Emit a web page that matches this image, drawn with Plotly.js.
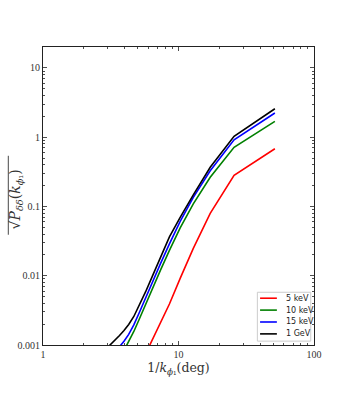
<!DOCTYPE html>
<html>
<head>
<meta charset="utf-8">
<script src="https://cdn.plot.ly/plotly-3.0.1.min.js"></script>
<style>body{margin:0;background:#fff}</style>
</head>
<body>
<div id="plot" style="width:350px;height:395px"></div>
<script>
// 1/k_phi1 in degrees
const invK = [3.02, 3.21, 3.43, 3.67, 3.96, 4.29, 4.68, 5.14, 5.71, 6.43, 7.35, 8.57, 10.29, 12.86, 17.14, 25.71, 51.43];

const p5keV = [null, null, null, null, null, null, null, null, 0.000741, 0.0012, 0.00198, 0.00391, 0.00914, 0.0248, 0.0794, 0.281, 0.679];
const p10keV = [null, null, null, null, 0.000833, 0.001105, 0.001567, 0.002375, 0.003846, 0.006555, 0.01193, 0.0232, 0.0491, 0.109, 0.2633, 0.714, 1.69];
const p15keV = [null, null, null, 0.000945, 0.00113, 0.00142, 0.00195, 0.00295, 0.00478, 0.00813, 0.01481, 0.0288, 0.061, 0.1353, 0.3266, 0.916, 2.23];
const p1GeV = [0.000936, 0.00105, 0.00119, 0.00137, 0.00162, 0.00198, 0.00258, 0.00372, 0.00583, 0.00993, 0.01835, 0.0364, 0.0695, 0.147, 0.367, 1.03, 2.57];

const names = ["5 keV", "10 keV", "15 keV", "1 GeV"];
const colors = ["#ff0000", "#008000", "#0000ff", "#000000"];
const series = [p5keV, p10keV, p15keV, p1GeV];

const xTicks = [1, 10, 100];
const xTickText = ["1", "10", "100"];
const yTicks = [0.001, 0.01, 0.1, 1, 10];
const yTickText = ["0.001", "0.01", "0.1", "1", "10"];

function minorTicks(decades) {
  const out = [];
  for (const d of decades) {
    for (let m = 2; m <= 9; m++) out.push(m * d);
  }
  return out;
}

const traces = series.map((ys, i) => ({
  x: invK,
  y: ys,
  mode: "lines",
  type: "scatter",
  name: names[i],
  line: { color: colors[i], width: 1.6 },
  showlegend: false,
  hoverinfo: "skip"
}));

// hand-made legend, matplotlib style, lower right
const shapes = [{
  type: "rect", xref: "paper", yref: "paper",
  x0: 0.791, x1: 0.988, y0: 0.013, y1: 0.177,
  line: { color: "#cccccc", width: 1 }, fillcolor: "rgba(255,255,255,0.85)"
}];
const annotations = [];
names.forEach((n, i) => {
  const y = 0.157 - i * 0.0399;
  shapes.push({
    type: "line", xref: "paper", yref: "paper",
    x0: 0.801, x1: 0.863, y0: y, y1: y,
    line: { color: colors[i], width: 1.6 }
  });
  annotations.push({
    xref: "paper", yref: "paper", x: 0.889, y: y,
    xanchor: "left", yanchor: "middle", showarrow: false,
    text: n, font: { family: "DejaVu Sans", size: 8, color: "#222" }
  });
});

// y label, drawn as a rotated annotation with the root's bar as a shape
annotations.push({
  xref: "paper", yref: "paper", x: -0.098, y: 0.49,
  xanchor: "center", yanchor: "middle", showarrow: false, textangle: -90,
  text: "√<i>P</i><sub><i>δδ</i></sub>(<i>k</i><sub><i>ϕ</i>₁</sub>)",
  font: { family: "DejaVu Serif", size: 14, color: "#333" }
});
shapes.push({
  type: "line", xref: "paper", yref: "paper",
  x0: -0.128, x1: -0.128, y0: 0.37, y1: 0.635,
  line: { color: "#333", width: 0.9 }
});

const axisCommon = {
  type: "log",
  showgrid: false,
  zeroline: false,
  showline: true,
  linecolor: "#222",
  linewidth: 1,
  mirror: "allticks",
  ticks: "inside",
  ticklen: 4,
  tickwidth: 0.8,
  tickcolor: "#222",
  tickmode: "array",
  tickfont: { family: "Liberation Serif", size: 10, color: "#333" }
};

const layout = {
  width: 350,
  height: 395,
  margin: { l: 43, r: 36, t: 47, b: 50 },
  paper_bgcolor: "#fff",
  plot_bgcolor: "#fff",
  showlegend: false,
  xaxis: Object.assign({}, axisCommon, {
    range: [0, 2],
    tickvals: xTicks,
    ticktext: xTickText,
    minor: { tickmode: "array", tickvals: minorTicks([1, 10]), ticks: "inside", ticklen: 2, tickcolor: "#222" },
    title: {
      text: "1/<i>k</i><sub><i>ϕ</i>₁</sub>(deg)",
      font: { family: "DejaVu Serif", size: 12.5, color: "#333" },
      standoff: 2
    }
  }),
  yaxis: Object.assign({}, axisCommon, {
    range: [-3, Math.log10(20)],
    tickvals: yTicks,
    ticktext: yTickText,
    minor: { tickmode: "array", tickvals: minorTicks([0.001, 0.01, 0.1, 1]), ticks: "inside", ticklen: 2, tickcolor: "#222" }
  }),
  shapes: shapes,
  annotations: annotations
};

Plotly.newPlot("plot", traces, layout, { staticPlot: true });
</script>
</body>
</html>
